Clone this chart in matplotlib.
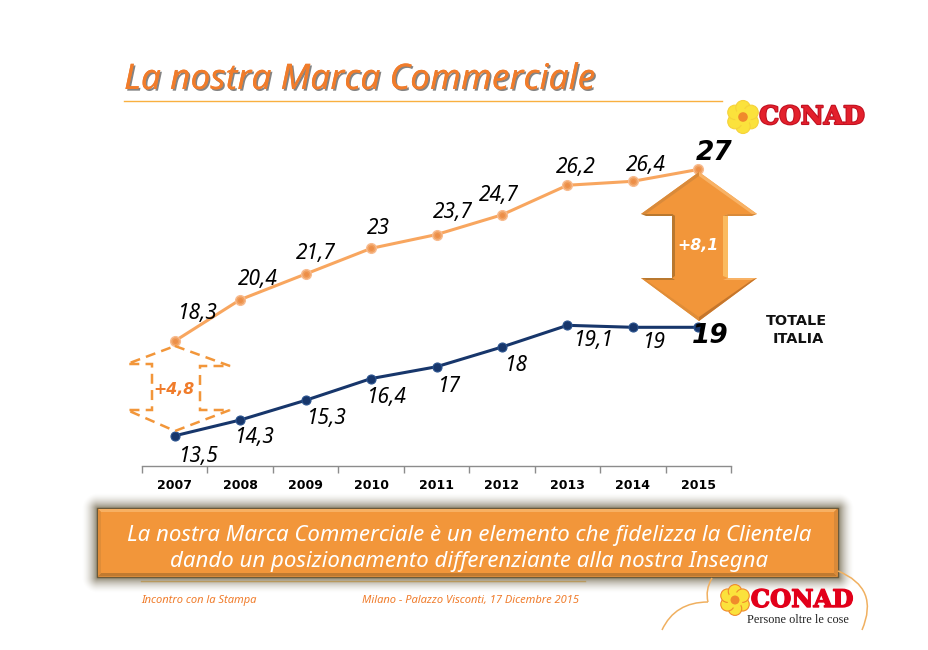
import matplotlib
matplotlib.use("Agg")
import matplotlib.pyplot as plt
import matplotlib.patheffects as pe
from matplotlib.patches import Polygon, Circle, Rectangle, PathPatch
from matplotlib.path import Path
import numpy as np

W, H = 929, 650

years = [2007, 2008, 2009, 2010, 2011, 2012, 2013, 2014, 2015]
conad = [18.3, 20.4, 21.7, 23, 23.7, 24.7, 26.2, 26.4, 27]
totale = [13.5, 14.3, 15.3, 16.4, 17, 18, 19.1, 19, 19]

# label offsets from the point, in pixels
conad_off = [(22, 28), (18, 20), (10, 21), (7, 20), (16, 22), (-3, 19), (8, 18), (13, 16), (16, 16)]
totale_off = [(23, -21), (14, -17), (20, -18), (15, -19), (12, -20), (14, -18), (26, -15), (21, -15), (12, -9)]

ORANGE = "#F2963A"
TITLE_ORANGE = "#F07C2B"
LINE_ORANGE = "#F8A65F"
NAVY = "#17366B"
FONT = "Noto Sans"

plt.rcParams["font.family"] = [FONT, "DejaVu Sans"]

fig = plt.figure(figsize=(W / 100, H / 100), dpi=100, facecolor="white")


def fig_rect(x0, y0, x1, y1):
    return [x0 / W, 1 - y1 / H, (x1 - x0) / W, (y1 - y0) / H]


# chart
ax = fig.add_axes(fig_rect(142, 130, 731, 466), zorder=2)
ax.patch.set_alpha(0)
ax.set_xlim(2006.5, 2015.5)
ax.set_ylim(11.97, 29)
for s in ["top", "left", "right"]:
    ax.spines[s].set_visible(False)
ax.spines["bottom"].set_color("#8c8c8c")
ax.spines["bottom"].set_linewidth(1)
ax.set_yticks([])
ax.set_xticks(np.arange(2006.5, 2016, 1))
ax.set_xticklabels([])
ax.set_xticks(years, minor=True)
ax.set_xticklabels([str(y) for y in years], minor=True, family="DejaVu Sans",
                   fontweight="bold", fontsize=9)
ax.tick_params(axis="x", which="major", length=5, color="#8c8c8c", width=1)
ax.tick_params(axis="x", which="minor", length=0, pad=9.5)

ax.plot(years, conad, color=LINE_ORANGE, lw=2.2, marker="o", ms=7,
        mfc="#F0A060", mec="#F8BC90", mew=1)
ax.plot(years, conad, ls="none", marker="o", ms=2.5, color="#EC8E48")
ax.plot(years, totale, color=NAVY, lw=2.2, marker="o", ms=6.5, mfc=NAVY, mec="#2C5590", mew=0.8)


def fmt(v):
    return str(v).replace(".", ",")


for series, offs in [(conad, conad_off), (totale, totale_off)]:
    for i, (yr, v) in enumerate(zip(years, series)):
        if i == len(years) - 1:
            style = dict(family="DejaVu Sans", fontsize=19, fontweight="bold")
        else:
            style = dict(fontsize=15)
        ax.annotate(fmt(v), (yr, v), xytext=offs[i], textcoords="offset pixels",
                    ha="center", va="center", style="italic", color="black",
                    zorder=6, **style)

# everything drawn on top of the chart, in pixel coordinates
over = fig.add_axes([0, 0, 1, 1], zorder=3)
over.set_xlim(0, W)
over.set_ylim(H, 0)
over.axis("off")
over.patch.set_alpha(0)

# title
over.text(124, 80, "La nostra Marca Commerciale", style="italic", fontsize=25.4,
          color=TITLE_ORANGE, va="center", ha="left",
          path_effects=[pe.withSimplePatchShadow(offset=(1.2, -1.2), shadow_rgbFace="#666666", alpha=0.8),
                        pe.Normal()])
over.plot([124, 722], [100.5, 100.5], color="#F9B040", lw=1)

# big double arrow
big_arrow = [(699, 172), (757, 214), (728, 214), (728, 278), (757, 278), (699, 321),
             (641, 278), (672, 278), (672, 214), (641, 214)]
over.add_patch(Polygon(big_arrow, closed=True, fc=ORANGE, ec="none"))
over.add_patch(Polygon([(699, 172), (757, 214), (752, 214), (699, 176)], fc="#F8B265", ec="none"))
over.add_patch(Polygon([(699, 172), (641, 214), (646, 214), (699, 176)], fc="#D98A3A", ec="none"))
over.add_patch(Polygon([(728, 214), (723, 216), (723, 276), (728, 278)], fc="#FBBB60", ec="none"))
over.add_patch(Polygon([(672, 214), (675, 216), (675, 276), (672, 278)], fc="#B9782F", ec="none"))
over.add_patch(Polygon([(641, 214), (672, 214), (675, 216), (646, 216)], fc="#B9782F", ec="none"))
over.add_patch(Polygon([(723, 216), (728, 214), (757, 214), (752, 216)], fc="#D98A3A", ec="none"))
over.add_patch(Polygon([(641, 278), (672, 278), (675, 280), (646, 280)], fc="#B9782F", ec="none"))
over.add_patch(Polygon([(728, 278), (757, 278), (752, 280), (723, 280)], fc="#F8B265", ec="none"))
over.add_patch(Polygon([(641, 278), (699, 321), (699, 317), (646, 280)], fc="#E08D38", ec="none"))
over.add_patch(Polygon([(757, 278), (699, 321), (699, 317), (752, 280)], fc="#C5762C", ec="none"))
over.text(698, 245, "+8,1", color="white", family="DejaVu Sans", style="italic", fontweight="bold",
          fontsize=11.3, ha="center", va="center")

# dashed arrow
dashed = [(175, 346), (230, 366), (200, 366), (200, 410), (230, 410), (175, 431),
          (127, 410), (152, 410), (152, 364), (127, 364)]
over.add_patch(Polygon(dashed, closed=True, fc="none", ec=ORANGE, lw=1.8, ls=(0, (4, 2.5))))
over.text(174, 390, "+4,8", color=TITLE_ORANGE, family="DejaVu Sans", style="italic", fontweight="bold",
          fontsize=11.3, ha="center", va="center")

over.text(796, 321, "TOTALE", family="DejaVu Sans", fontweight="bold", fontsize=10.4,
          ha="center", va="center", color="#111111")
over.text(798, 339, "ITALIA", family="DejaVu Sans", fontweight="bold", fontsize=10.4,
          ha="center", va="center", color="#111111")

# banner with soft shadow
yy, xx = np.mgrid[0:H, 0:W]
dx = np.maximum(np.maximum(97 - xx, xx - 838), 0)
dy = np.maximum(np.maximum(508 - yy, yy - 577), 0)
dist = np.hypot(dx, dy)
shadow = np.zeros((H, W, 4))
shadow[..., :3] = np.array([0.44, 0.40, 0.30])
shadow[..., 3] = np.clip(1 - dist / 16, 0, 1) ** 1.8 * 0.8
over.imshow(shadow, extent=(0, W, H, 0), aspect="auto", zorder=0, interpolation="bilinear")
over.set_xlim(0, W)
over.set_ylim(H, 0)

over.add_patch(Rectangle((97, 508), 741, 69, fc=ORANGE, ec="#6B5A3A", lw=1, zorder=1))
over.add_patch(Polygon([(98, 509), (837, 509), (834, 512), (101, 512)], fc="#F7B062", ec="none", zorder=1))
over.add_patch(Polygon([(98, 576), (837, 576), (834, 573), (101, 573)], fc="#C07A30", ec="none", zorder=1))
over.add_patch(Polygon([(98, 509), (101, 512), (101, 573), (98, 576)], fc="#E08D38", ec="none", zorder=1))
over.add_patch(Polygon([(837, 509), (834, 512), (834, 573), (837, 576)], fc="#D98A3A", ec="none", zorder=1))
over.text(469.5, 535, "La nostra Marca Commerciale è un elemento che fidelizza la Clientela",
          color="white", style="italic", fontsize=16, ha="center", va="center", zorder=2)
over.text(469.5, 561, "dando un posizionamento differenziante alla nostra Insegna",
          color="white", style="italic", fontsize=16, ha="center", va="center", zorder=2)

# footer
over.plot([141, 585], [581, 581], color="#B8995F", lw=1, zorder=1)
over.text(141, 600, "Incontro con la Stampa", color=TITLE_ORANGE, style="italic", fontsize=8,
          ha="left", va="center")
over.text(362, 600, "Milano - Palazzo Visconti, 17 Dicembre 2015", color=TITLE_ORANGE, style="italic",
          fontsize=8, ha="left", va="center")


def curve(pts):
    codes = [Path.MOVETO] + [Path.CURVE3] * (len(pts) - 1)
    over.add_patch(PathPatch(Path(pts, codes), fc="none", ec="#F0B060", lw=1.1, zorder=1))


curve([(662, 630), (675, 602), (708, 602)])
curve([(708, 602), (705, 590), (712, 578)])
curve([(838, 571), (880, 588), (862, 630)])


def flower(cx, cy, r, edge):
    for a in np.deg2rad(np.arange(0, 360, 60) + 30):
        over.add_patch(Circle((cx + r * 0.62 * np.cos(a), cy + r * 0.62 * np.sin(a)), r * 0.48,
                              fc="#FBE23C", ec=edge, lw=0.8, zorder=3))
    over.add_patch(Circle((cx, cy), r * 0.55, fc="#FBE23C", ec="none", zorder=3))
    over.add_patch(Circle((cx, cy), r * 0.32, fc="#F08A2C", ec="none", zorder=4))


flower(743, 117, 15, "#F6D23A")
over.text(812, 117, "CONAD", family="DejaVu Serif", fontweight="bold", fontsize=18, color="#E3202C",
          ha="center", va="center", zorder=4,
          path_effects=[pe.withStroke(linewidth=1.5, foreground="#C01020")])
flower(735, 600, 14, "#F08A2C")
over.text(802, 600, "CONAD", family="DejaVu Serif", fontweight="bold", fontsize=17.5, color="#E2001A",
          ha="center", va="center", zorder=4,
          path_effects=[pe.withStroke(linewidth=1, foreground="#E2001A")])
over.text(797.5, 620, "Persone oltre le cose", family="Liberation Serif", fontsize=8.8, color="#222222",
          ha="center", va="center", zorder=4)

fig.savefig("out.png", dpi=100, facecolor="white")
